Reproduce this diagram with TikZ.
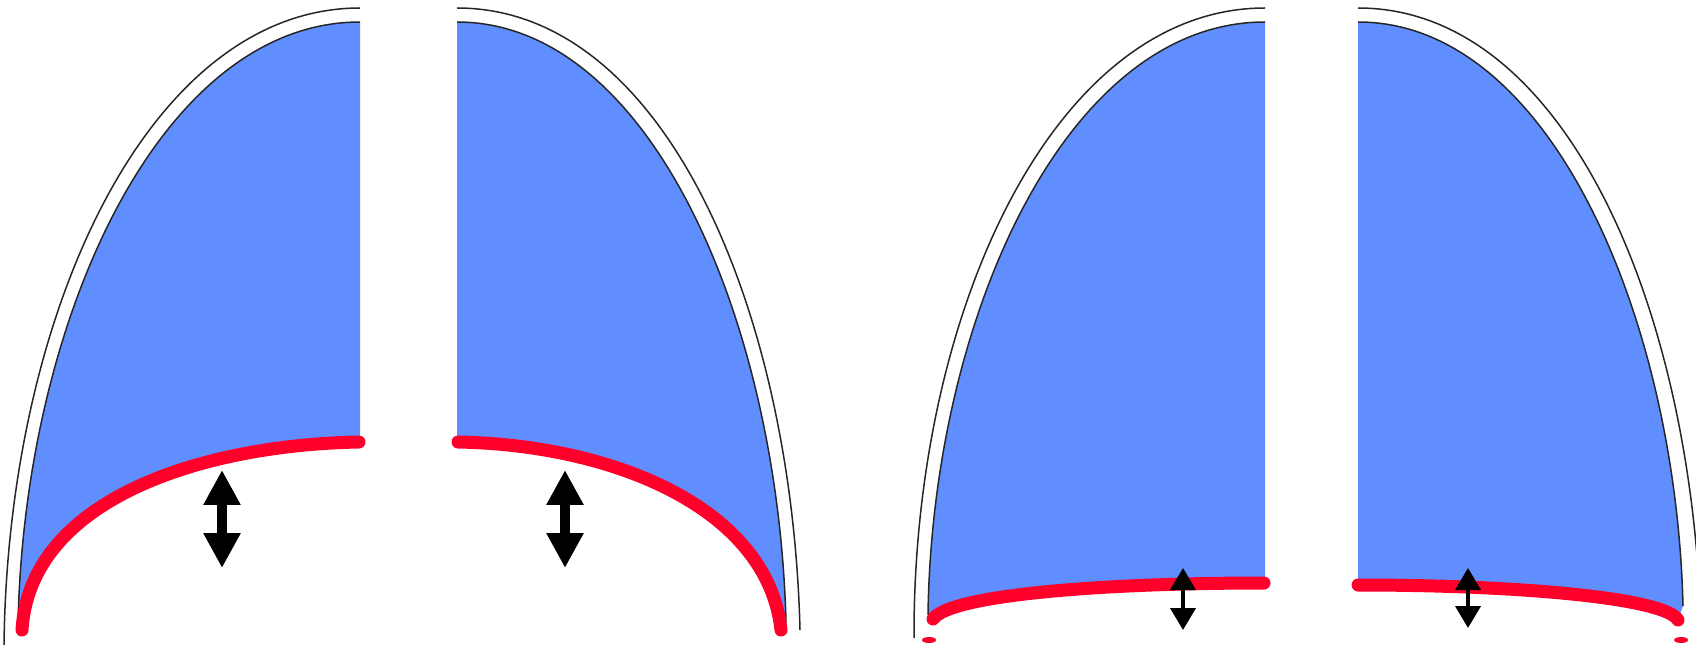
\documentclass[tikz,border=0pt]{standalone}
\usetikzlibrary{arrows.meta}

\definecolor{lungblue}{RGB}{96,142,255}
\definecolor{diaphred}{RGB}{255,0,42}

\def\redw{0.26cm}
\def\wallw{0.03cm}

\begin{document}
\begin{tikzpicture}[x=0.02cm,y=-0.02cm,
        wall/.style={black!85,line width=\wallw},
        diaphragm/.style={diaphred,line width=\redw,line cap=round},
        bigarrow/.style={line width=0.2cm,{Triangle[length=0.7cm,width=0.7cm]}-{Triangle[length=0.7cm,width=0.7cm]}},
        smallarrow/.style={line width=0.08cm,{Triangle[length=0.44cm,width=0.5cm]}-{Triangle[length=0.44cm,width=0.5cm]}}]
        \useasboundingbox (0,0) rectangle (1696,645);
        \clip (0,0) rectangle (1696,645);

        % ---- domed diaphragm ----
        % left lung
        \fill[lungblue] (360,22) .. controls (160,22) and (24,320) .. (18,625)
            -- (22,630) .. controls (30,500) and (200,445) .. (359,442) -- (360,442) -- cycle;
        \draw[wall] (360,22) .. controls (160,22) and (24,320) .. (18,625);
        \draw[wall] (360,8) .. controls (150,8) and (8,310) .. (4,645);
        \draw[diaphragm] (359,442) .. controls (200,445) and (30,500) .. (22,630);
        % right lung
        \fill[lungblue] (457,22) .. controls (650,22) and (778,320) .. (786,622)
            -- (781,630) .. controls (768,510) and (617,445) .. (458,442) -- (457,442) -- cycle;
        \draw[wall] (457,22) .. controls (650,22) and (778,320) .. (786,622);
        \draw[wall] (457,8) .. controls (665,8) and (792,310) .. (800,630);
        \draw[diaphragm] (458,442) .. controls (617,445) and (768,510) .. (781,630);
        % movement of the dome
        \coordinate (dl1) at (222,470);
        \coordinate (dl2) at (222,568);
        \coordinate (dr1) at (565,470);
        \coordinate (dr2) at (565,568);
        \draw[bigarrow] (dl1) -- (dl2);
        \draw[bigarrow] (dr1) -- (dr2);

        % ---- flat diaphragm ----
        % left lung
        \fill[lungblue] (1265,22) .. controls (1065,22) and (932,320) .. (928,615)
            -- (933,619) .. controls (950,595) and (1100,583) .. (1264,583) -- (1265,583) -- cycle;
        \draw[wall] (1265,22) .. controls (1065,22) and (932,320) .. (928,615);
        \draw[wall] (1265,8) .. controls (1055,8) and (913,310) .. (914,638);
        \draw[diaphragm] (1264,583) .. controls (1100,583) and (950,595) .. (933,619);
        \fill[diaphred] (929,640) ellipse (7 and 3);
        % right lung
        \fill[lungblue] (1358,22) .. controls (1551,22) and (1676,320) .. (1683,606)
            -- (1678,620) .. controls (1665,598) and (1520,585) .. (1358,585) -- cycle;
        \draw[wall] (1358,22) .. controls (1551,22) and (1676,320) .. (1683,606);
        \draw[wall] (1358,8) .. controls (1566,8) and (1693,310) .. (1701,630);
        \draw[diaphragm] (1358,585) .. controls (1520,585) and (1665,598) .. (1678,620);
        \fill[diaphred] (1681,640) ellipse (7 and 3);
        % movement of the flat part
        \coordinate (fl1) at (1183,568);
        \coordinate (fl2) at (1183,630);
        \coordinate (fr1) at (1468,568);
        \coordinate (fr2) at (1468,628);
        \draw[smallarrow] (fl1) -- (fl2);
        \draw[smallarrow] (fr1) -- (fr2);
    \end{tikzpicture}
\end{document}
